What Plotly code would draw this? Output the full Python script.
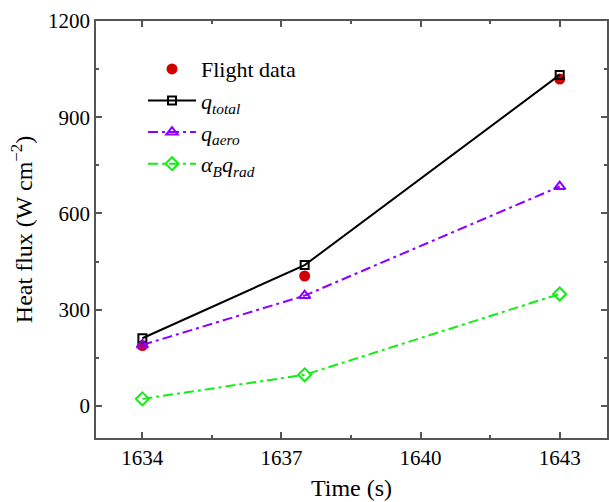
import plotly.graph_objects as go

time = [1634, 1637.5, 1643]
flight_data = [188, 405, 1019]
q_total = [211, 439, 1032]
q_aero = [190, 344, 684]
q_rad = [22, 97, 349]

fig = go.Figure()
fig.add_trace(go.Scatter(
    x=time, y=flight_data, mode='markers', name='Flight data',
    marker=dict(symbol='circle', size=11, color='#d00000'),
))
fig.add_trace(go.Scatter(
    x=time, y=q_total, mode='lines+markers', name='<i>q</i><sub><i>total</i></sub>',
    line=dict(color='black', width=2),
    marker=dict(symbol='square-open', size=8, color='black', line=dict(width=2)),
))
fig.add_trace(go.Scatter(
    x=time, y=q_aero, mode='lines+markers', name='<i>q</i><sub><i>aero</i></sub>',
    line=dict(color='#8b00ff', width=2, dash='10px,4px,3px,4px'),
    marker=dict(symbol='triangle-up-open', size=10, color='#8b00ff', line=dict(width=2)),
))
fig.add_trace(go.Scatter(
    x=time, y=q_rad, mode='lines+markers', name='<i>α</i><sub><i>B</i></sub><i>q</i><sub><i>rad</i></sub>',
    line=dict(color='#11ee11', width=2, dash='10px,4px,3px,4px'),
    marker=dict(symbol='diamond-open', size=10, color='#11ee11', line=dict(width=2)),
))

axis_style = dict(
    showline=True, linecolor='#555555', linewidth=1.5, mirror='allticks',
    ticks='inside', ticklen=6, tickcolor='#555555', tickwidth=1.5,
    showgrid=False, zeroline=False,
    tickfont=dict(family='Liberation Serif', size=21, color='black'),
    minor=dict(ticks='inside', ticklen=3, tickcolor='#555555', tickwidth=1.5),
)

fig.update_xaxes(
    range=[1633, 1644.02], tickvals=[1634, 1637, 1640, 1643],
    minor_dtick=1.5, minor_tick0=1634,
    title=dict(text='Time (s)', font=dict(family='Liberation Serif', size=24, color='black'), standoff=10),
    **axis_style,
)
fig.update_yaxes(
    range=[-100, 1200], tickvals=[0, 300, 600, 900, 1200],
    minor_dtick=150, minor_tick0=0,
    title=dict(text='Heat flux (W cm<sup>−2</sup>)', font=dict(family='Liberation Serif', size=24, color='black'), standoff=9),
    **axis_style,
)

fig.update_layout(
    width=609, height=502,
    margin=dict(l=96, r=0, t=21, b=64),
    plot_bgcolor='white', paper_bgcolor='white',
    font=dict(family='Liberation Serif', color='black'),
    legend=dict(
        x=0.092, y=0.935, xanchor='left', yanchor='top',
        font=dict(family='Liberation Serif', size=22, color='black'),
        bgcolor='rgba(0,0,0,0)', itemwidth=48, tracegroupgap=0,
    ),
)

# drop the default 8px page margin so the figure sits at the window corner
fig.write_html('out.html', config={'displayModeBar': False},
               post_script="document.body.style.margin='0';")
